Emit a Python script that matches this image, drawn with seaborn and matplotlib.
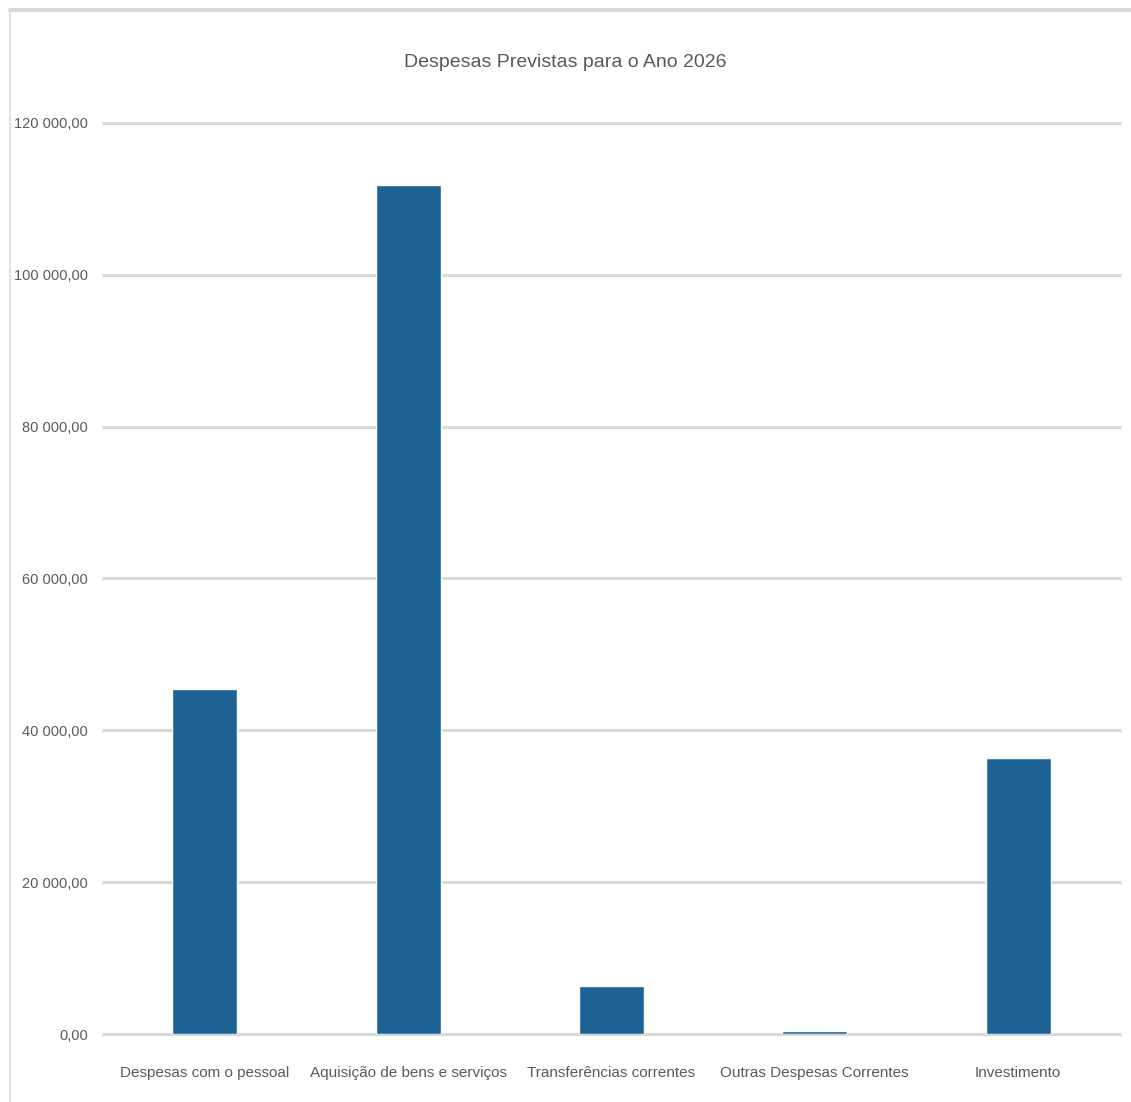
import matplotlib
matplotlib.use("Agg")
import matplotlib.pyplot as plt
import seaborn as sns
import pandas as pd
from matplotlib.lines import Line2D
from matplotlib.ticker import FuncFormatter

categorias = ["Despesas com o pessoal", "Aquisição de bens e serviços",
              "Transferências correntes", "Outras Despesas Correntes",
              "Investimento"]
valores = [45400, 111800, 6350, 400, 36300]

df = pd.DataFrame({"categoria": categorias, "valor": valores})

sns.set_theme(style="white")
plt.rcParams["font.family"] = ["Liberation Sans", "DejaVu Sans"]

fig = plt.figure(figsize=(11.31, 11.02), dpi=100)
ax = fig.add_axes([0.0911, 0.0617, 0.899, 0.8267])

sns.barplot(data=df, x="categoria", y="valor", color="#1d6396",
            width=0.32, saturation=1, ax=ax)

ax.set_ylim(0, 120000)
ax.set_yticks(range(0, 120001, 20000))
ax.yaxis.set_major_formatter(FuncFormatter(
    lambda v, p: f"{v:,.2f}".replace(",", " ").replace(".", ",")))
ax.grid(axis="y", color="#d9d9d9", linewidth=2.2)
for gl in ax.get_ygridlines():
    gl.set_clip_on(False)
ax.set_axisbelow(True)
for s in ax.spines.values():
    s.set_visible(False)
ax.tick_params(axis="y", length=0, labelsize=10.5, colors="#595959", pad=11)
ax.tick_params(axis="x", length=0, labelsize=11, colors="#595959", pad=23)
ax.set_xlabel("")
ax.set_ylabel("")
fig.suptitle("Despesas Previstas para o Ano 2026", y=0.943, va="center",
             fontsize=14, color="#595959")

# moldura do gráfico
fig.add_artist(Line2D([10 / 1131, 1.0], [1 - 10 / 1102, 1 - 10 / 1102],
                      color="#d9d9d9", linewidth=3))
fig.add_artist(Line2D([10 / 1131, 10 / 1131], [0.0, 1 - 10 / 1102],
                      color="#d9d9d9", linewidth=1.2))

fig.savefig("out.png", dpi=100, facecolor="white")
